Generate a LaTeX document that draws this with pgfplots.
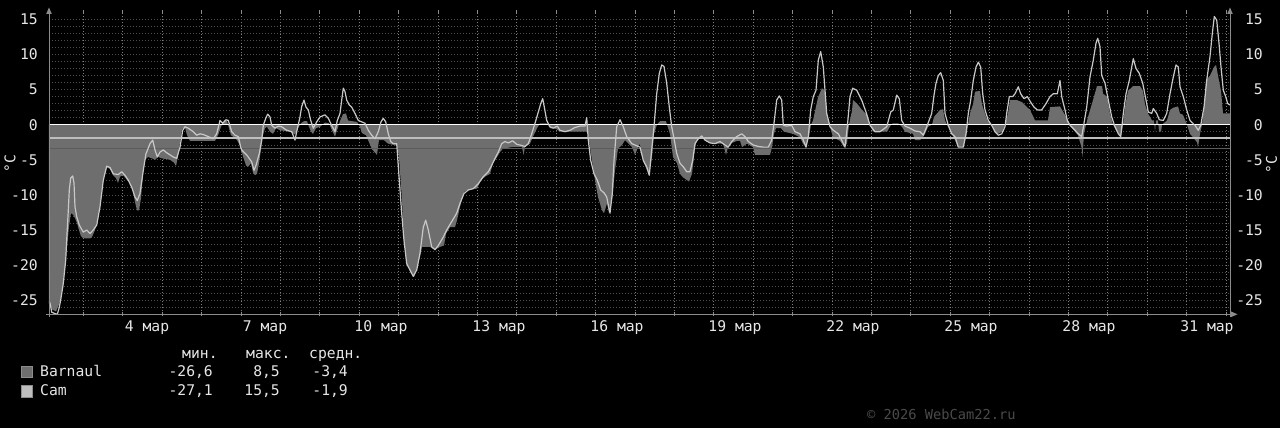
\documentclass[border=0pt]{standalone}
\usepackage{fontspec}
\setmainfont{DejaVu Sans Mono}
\setmonofont{DejaVu Sans Mono}
\usepackage{pgfplots}
\pgfplotsset{compat=1.18}
\definecolor{bfill}{HTML}{6E6E6E}
\definecolor{camline}{HTML}{C8C8C8}
\definecolor{camavg}{HTML}{BEBEBE}
\definecolor{bavg}{HTML}{5C5C5C}
\definecolor{hgrid}{HTML}{4E4E4E}
\definecolor{vgrid}{HTML}{7E7E7E}
\definecolor{axcol}{HTML}{8C8C8C}
\definecolor{txt}{HTML}{E6E6E6}
\definecolor{wm}{HTML}{4A4A4A}
\newcommand{\tf}{\fontsize{14.7}{15}\selectfont\ttfamily}
\begin{document}
\begin{tikzpicture}[x=1pt,y=1pt]
\fill[black] (0,0) rectangle (1280,428);
\begin{axis}[
  at={(49pt,113.7pt)}, anchor=south west, scale only axis,
  width=1181pt, height=302pt,
  xmin=49, xmax=1230, ymin=-27, ymax=16,
  axis line style={draw=none},
  xtick={83.3,122.7,...,1227}, xticklabels={},
  extra x ticks={147,265,381,499,617,735,853,971,1089,1207},
  extra x tick labels={4 мар,7 мар,10 мар,13 мар,16 мар,19 мар,22 мар,25 мар,28 мар,31 мар},
  extra x tick style={grid=none, major tick length=0pt},
  ytick={-25,-20,...,15},
  minor ytick={-26,-24,-23,-22,-21,-19,-18,-17,-16,-14,-13,-12,-11,-9,-8,-7,-6,-4,-3,-2,-1,1,2,3,4,6,7,8,9,11,12,13,14},
  xmajorgrids, ymajorgrids, yminorgrids,
  major x grid style={vgrid, line width=0.8pt, dash pattern=on 1pt off 2pt},
  major y grid style={hgrid, line width=0.8pt, dash pattern=on 1pt off 2pt},
  minor y grid style={hgrid, line width=0.8pt, dash pattern=on 1pt off 2pt},
  ytick style={draw=none}, minor tick length=0pt,
  xtick style={draw=axcol, line width=0.8pt}, major tick length=4pt, tick align=center,
  /pgf/number format/assume math mode=true,
  tick label style={font=\tf, text=txt},
  yticklabel style={anchor=east, inner sep=0pt, xshift=-9pt},
  xticklabel style={anchor=base, inner sep=0pt, yshift=-17.4pt},
]
\addplot[fill=bfill, draw=none] table {
49 0
49 -25.5
52 -26.3
56 -26.6
59 -25.6
61 -24.6
63 -22.5
65 -20.5
67 -17.5
69 -14.5
71 -12.6
73 -12.8
75 -13.3
77 -14.0
79 -15.0
81 -15.9
85 -16.2
90 -16.2
92 -16.0
95 -15.0
97 -13.8
100 -11.5
102 -9.0
104 -7.5
107 -6.1
110 -6.3
113 -7.2
116 -7.6
118 -8.3
120 -7.4
123 -7.2
126 -7.7
130 -8.3
133 -9.5
135 -11.0
137 -12.2
139 -12.2
141 -10.5
143 -7.0
145 -5.0
148 -4.6
152 -4.8
155 -5.0
158 -4.6
162 -4.8
166 -4.9
170 -5.0
174 -5.4
176 -5.9
178 -4.5
180 -2.5
182 -0.6
185 -0.4
187 -1.5
190 -2.3
215 -2.3
218 -1.5
221 -0.3
224 0.6
227 0.5
229 -0.5
231 -1.5
234 -1.8
237 -2.2
240 -3.0
243 -4.5
246 -5.8
248 -6.0
251 -5.5
253 -6.8
255 -7.2
257 -7.0
259 -5.5
261 -3.5
263 -1.5
265 -0.5
267 -0.3
270 -1.0
273 -1.3
276 -0.5
280 -0.8
290 -1.0
295 -1.4
298 -0.5
301 0.2
304 0.5
307 0.5
309 -0.3
311 -1.0
313 -1.3
316 -0.5
320 -0.3
325 0.3
329 0.2
332 -0.8
335 -1.7
337 -0.8
340 0.5
343 1.5
346 1.6
348 0.6
352 0.5
357 0.4
360 -0.3
362 -1.2
366 -1.5
369 -2.5
372 -3.5
377 -4.3
379 -2.2
384 -2.2
388 -2.7
394 -2.9
397 -3.0
399 -4.6
402 -10.8
404 -16.5
407 -19.8
411 -21.2
414 -21.7
417 -20.3
420 -18.8
422 -17.4
430 -17.4
435 -17.8
440 -17.4
444 -17.2
446 -15.5
450 -14.6
455 -14.6
457 -13.6
460 -11.7
464 -9.6
467 -9.3
477 -9.1
481 -7.9
485 -7.4
490 -7.0
493 -5.5
497 -4.6
500 -3.9
503 -3.4
512 -3.2
522 -3.2
523.5 -4.3
525 -3.2
530 -2.7
533 -1.7
537 -0.5
540 0.2
547 0.2
550 -0.5
556 -0.6
560 -1.0
586 -1.0
588 -1.3
592 -5.1
595 -7.9
598 -10.3
602 -12.2
604 -12.6
607 -11.2
609 -12.6
612 -10.8
615 -6.5
618 -3.4
622 -2.9
625 -2.2
632 -3.2
635 -4.3
638 -3.2
640 -2.7
643 -5.1
647 -6.5
649 -7.2
652 -4.6
654 -1.3
657 0.0
660 0.5
666 0.5
667 0.0
670 -1.3
673 -4.6
677 -5.5
680 -7.0
683 -7.5
687 -7.9
689 -8.1
692 -7.0
695 -3.2
697 -2.2
702 -1.8
707 -2.4
713 -2.7
723 -2.7
726 -4.3
728 -3.2
732 -2.6
737 -2.3
740 -2.3
742 -3.2
747 -2.7
753 -3.2
755 -4.3
770 -4.3
772 -3.2
774 -1.3
776 -0.5
781 -0.5
784 -1.0
793 -1.3
800 -1.8
803 -2.7
806 -3.2
809 -1.7
811 0.0
813 0.6
818 3.9
822 5.2
825 4.7
827 1.6
830 -0.3
833 -1.8
840 -2.3
844 -3.2
847 -2.7
849 0.0
852 2.0
853 3.5
857 3.0
862 2.1
867 1.4
870 0.0
873 -1.0
887 -1.0
891 0.0
893 0.2
898 0.2
902 -0.3
905 -1.0
913 -1.3
915 -2.2
920 -2.2
923 -1.8
926 -1.0
928 -0.3
932 0.0
934 1.1
937 1.6
940 2.1
943 2.2
945 0.6
948 -0.3
952 -1.3
955 -2.2
958 -3.2
963 -3.2
966 -1.8
968 0.0
970 1.6
973 2.9
975 4.7
980 4.8
982 2.9
984 2.0
988 0.4
992 0.0
995 -1.0
998 -1.3
1002 -1.0
1005 0.0
1008 1.6
1010 3.5
1017 3.5
1022 3.2
1027 2.5
1030 2.1
1035 0.6
1048 0.6
1050 2.5
1060 2.6
1062 2.1
1067 0.9
1070 -0.1
1075 -1.0
1078 -1.5
1081.5 -3.2
1082.5 -4.6
1084 -1.3
1086 0.0
1088 1.1
1093 3.5
1097 5.5
1102 5.5
1103 4.4
1107 4.0
1110 1.6
1113 0.0
1117 -1.0
1121 -1.7
1123 0.0
1125 2.5
1128 4.8
1133 5.5
1140 5.5
1143 4.8
1145 2.9
1148 1.6
1152 0.6
1154 0.6
1155 -1.0
1156 0.6
1158 0.6
1159 -1.0
1161 -1.0
1162 0.0
1167 0.6
1170 2.1
1173 2.4
1178 2.6
1180 1.6
1183 1.4
1187 0.0
1190 -1.3
1193 -1.8
1197 -2.5
1198 -3.2
1200 -1.3
1202 0.0
1204 2.5
1206 6.3
1210 7.0
1214 8.2
1216 8.5
1218 7.0
1221 4.8
1223 1.6
1230 1.6
1230 0
} -- cycle;
\addplot[bavg, line width=1pt] coordinates {(49,-3.4) (1230,-3.4)};
\addplot[camavg, line width=1.2pt] coordinates {(49,-1.9) (1230,-1.9)};
\addplot[white, line width=1.6pt] coordinates {(49,0) (1230,0)};
\addplot[camline, line width=1.2pt, line join=round] table {
49 -25.2
50 -25.4
51.7 -26.7
55 -26.9
57.3 -27.0
59.3 -26.0
61 -24.7
63.3 -22.6
65.7 -19.3
66.7 -16.4
68.3 -12.2
69.3 -9.3
70.7 -7.6
72.7 -7.3
74 -8.3
75 -11.7
76.7 -13.1
79.3 -14.3
83.3 -15.3
86.7 -15.0
90 -15.5
93.3 -15.0
96.7 -14.3
100 -11.7
103.3 -7.9
106.7 -5.9
110 -6.1
113.3 -7.0
118.3 -7.1
121.7 -6.7
125 -7.2
128.3 -7.9
131.7 -8.9
135 -10.3
137.3 -10.8
140 -9.8
143.3 -6.5
146 -4.1
146.7 -3.9
150 -2.7
152.7 -2.2
155 -3.6
157.3 -4.6
160 -3.9
163.3 -3.6
166.7 -4.0
170 -4.3
173.3 -4.6
176.7 -4.8
180 -3.2
182.7 -0.8
185 -0.3
188.3 -0.5
193.3 -1.0
196.7 -1.5
200 -1.3
203.3 -1.4
208.3 -1.7
213.3 -2.0
216.7 -1.3
220 0.6
222.7 0.2
226 0.7
228.3 0.6
231.7 -1.0
235 -1.5
238.3 -1.7
240.7 -3.2
241.7 -3.6
246.7 -4.3
251.7 -5.3
254 -6.5
256 -5.8
259.3 -4.1
261.7 -2.2
263.3 -0.1
265.7 0.9
267.7 1.5
270 1.1
271.7 -0.1
275 -0.5
278.3 -0.2
281.7 -0.3
286.7 -0.8
291.7 -1.0
295 -2.2
296.7 -1.0
300 1.1
301.7 2.6
304 3.5
306 2.5
308.3 2.1
310.7 0.6
313.3 -0.5
316.7 0.4
320 1.1
325 1.4
328.3 0.9
331.7 -0.1
335 -1.0
337.3 0.6
340 1.6
341.7 3.5
343.3 5.2
345 4.7
346.7 3.5
349.3 2.8
351.7 2.5
355 1.6
358.3 0.6
361.7 0.4
365 0.2
368.3 -0.8
371.7 -1.5
375 -2.0
378.3 -1.0
381 0.4
383.3 0.9
385.7 0.4
388.3 -1.3
390.7 -2.4
393.3 -2.7
396.7 -2.7
399.3 -7.9
401.7 -12.6
404 -16.5
406.7 -19.8
410 -20.7
413.3 -21.6
416.7 -20.7
420 -18.3
423.3 -14.6
425.7 -13.6
428.3 -15.0
431.7 -17.4
435 -17.8
438.3 -17.2
443.3 -16.0
446.7 -15.0
451.7 -13.8
456.7 -12.6
460 -11.2
464 -9.8
468.3 -9.3
473.3 -9.1
478.3 -8.4
483.3 -7.4
488.3 -6.7
491.7 -5.8
495 -4.8
498.3 -3.9
501.7 -2.7
505 -2.4
508.3 -2.6
512.7 -2.3
516.7 -2.8
520 -2.9
525 -3.1
528.3 -2.7
531.7 -1.3
535 0.2
538.3 1.8
540.7 3.0
542.7 3.7
544.3 2.5
546.7 0.6
550 -0.3
553.3 -0.5
557.3 -0.2
560 -0.8
565 -1.0
570 -0.8
575 -0.4
580 -0.2
585 -0.2
586.7 1.0
588.3 -2.2
590.7 -5.1
594 -7.0
597.3 -7.9
600.7 -9.3
604 -9.7
606.7 -10.3
610 -12.6
612.3 -9.8
614 -5.1
616.7 -0.3
620 0.7
623.3 -0.3
626.7 -1.7
631.7 -2.7
635 -2.9
640 -3.2
643.3 -5.1
646.7 -6.0
649.3 -7.2
651.7 -3.6
654 -0.3
656.7 4.4
659.3 7.3
661.7 8.5
664 8.3
666.7 5.9
669.3 2.5
671.7 -0.3
674.3 -2.2
676.7 -4.1
680 -5.5
683.3 -6.0
686.7 -6.7
690 -6.7
692.7 -5.1
695 -2.7
698.3 -2.0
701.7 -1.6
705 -2.2
710 -2.6
715 -2.7
720 -2.4
725 -2.9
728.3 -3.2
731.7 -2.4
736.7 -1.7
741.7 -1.3
745 -1.7
748.3 -2.4
753.3 -2.9
758.3 -3.1
763.3 -3.2
768.3 -3.2
771.7 -2.2
774 0.2
776.7 3.5
779.3 4.1
781.7 3.5
783.3 -0.1
786.7 -0.2
791.7 -0.1
795 -1.0
800 -1.3
803.3 -2.2
806 -3.2
808.3 -1.7
810.7 2.1
813.3 4.0
816 4.9
818.3 9.2
820.7 10.4
823.3 8.2
826.7 1.6
830 -0.3
833.3 -0.8
838.3 -1.3
841.7 -2.2
845 -3.2
847.3 -0.3
850 4.0
852.7 5.2
856.7 4.9
861.7 3.5
866 1.8
870 -0.1
875 -1.0
880 -1.0
886.7 -0.3
890.7 1.8
893.3 2.1
896.7 4.2
899.3 3.7
901.7 0.6
905 -0.2
910 -0.5
915 -0.9
920 -1.0
923.3 -1.5
926.7 -0.3
931.7 1.6
934 4.2
936 5.9
938.3 7.0
940.7 7.4
943.3 6.3
945 1.6
948.3 -0.1
951.7 -1.3
955 -1.7
958.3 -3.2
963.3 -3.2
966 -1.3
968.3 1.6
970.7 3.5
973.3 6.3
976 8.2
978.3 8.9
980.7 8.2
982.7 4.4
985 2.1
988.3 0.6
991.7 -0.1
995 -1.0
998.3 -1.5
1001.7 -1.3
1005 -0.3
1006.7 1.6
1009.3 4.0
1012.7 4.0
1015 4.4
1018.3 5.4
1020.7 4.4
1024 3.7
1027.3 4.0
1030.7 3.2
1034 2.5
1037.3 2.1
1041.7 2.1
1046 3.0
1050 4.0
1053.3 4.4
1057.3 4.4
1060 6.3
1061.7 4.0
1065 2.1
1067.3 0.6
1070 -0.1
1075 -0.8
1078.3 -1.3
1081.7 -1.7
1084 0.2
1086.7 2.5
1090 6.8
1093.3 9.2
1096 11.6
1097.7 12.3
1100 11.1
1101.7 7.0
1105 5.9
1108.3 3.5
1111.7 1.1
1115 -0.3
1118.3 -1.3
1120.7 -1.7
1123.3 1.6
1126 4.4
1129.3 6.3
1131.7 8.2
1133.3 9.4
1136 8.0
1139.3 7.3
1142.7 5.9
1146 3.5
1148.3 1.8
1151.7 1.6
1153.3 2.3
1156.7 1.6
1159.3 0.7
1163.3 0.6
1166.7 1.6
1170 4.4
1173.3 6.8
1176 8.5
1178.3 8.2
1180 5.4
1183.3 4.0
1186.7 2.1
1190 0.6
1195 -0.1
1198.3 -0.8
1200.7 -0.1
1204 2.5
1206.7 6.3
1210 9.7
1212.3 13.0
1214.3 15.4
1216.7 14.9
1219 11.6
1221 8.2
1223.3 4.9
1225.7 4.0
1227.7 3.0
1230 2.8
};
\end{axis}
% right-hand tick labels
\begin{axis}[
  at={(49pt,113.7pt)}, anchor=south west, scale only axis,
  width=1181pt, height=302pt,
  xmin=49, xmax=1230, ymin=-27, ymax=16,
  axis line style={draw=none}, xtick=\empty,
  ytick={-25,-20,...,15}, ytick style={draw=none},
  yticklabel pos=right,
  /pgf/number format/assume math mode=true,
  tick label style={font=\tf, text=txt},
  yticklabel style={anchor=east, inner sep=0pt, xshift=33pt},
]
\addplot[draw=none] coordinates {(49,0) (1230,0)};
\end{axis}
% axes with arrows
\draw[axcol, line width=1pt] (49,111) -- (49,415);
\fill[axcol] (46.2,414) -- (51.8,414) -- (49,420.5) -- cycle;
\draw[axcol, line width=1pt] (1230,111) -- (1230,415);
\fill[axcol] (1227.2,414) -- (1232.8,414) -- (1230,420.5) -- cycle;
\draw[axcol, line width=1pt] (46,113.7) -- (1232,113.7);
\fill[axcol] (1231,110.9) -- (1231,116.5) -- (1237.5,113.7) -- cycle;
% unit labels
\node[rotate=90, text=txt, font=\tf, inner sep=0pt] at (10,264) {°C};
\node[rotate=90, text=txt, font=\tf, inner sep=0pt] at (1271.5,263.5) {°C};
% legend
\fill[bfill, draw=axcol, line width=0.8pt] (21,50.5) rectangle (32.5,62);
\fill[camavg, draw=axcol, line width=0.8pt] (21,31) rectangle (32.5,42.5);
\node[anchor=base west, inner sep=0pt, text=txt, font=\tf] at (40,51.3) {Barnaul};
\node[anchor=base west, inner sep=0pt, text=txt, font=\tf] at (40,32) {Cam};
\node[anchor=base west, inner sep=0pt, text=txt, font=\tf] at (182,69.7) {мин.};
\node[anchor=base west, inner sep=0pt, text=txt, font=\tf] at (246,69.7) {макс.};
\node[anchor=base west, inner sep=0pt, text=txt, font=\tf] at (309,69.7) {средн.};
\node[anchor=base east, inner sep=0pt, text=txt, font=\tf] at (213,51.3) {-26,6};
\node[anchor=base east, inner sep=0pt, text=txt, font=\tf] at (280,51.3) {8,5};
\node[anchor=base east, inner sep=0pt, text=txt, font=\tf] at (348,51.3) {-3,4};
\node[anchor=base east, inner sep=0pt, text=txt, font=\tf] at (213,32) {-27,1};
\node[anchor=base east, inner sep=0pt, text=txt, font=\tf] at (280,32) {15,5};
\node[anchor=base east, inner sep=0pt, text=txt, font=\tf] at (348,32) {-1,9};
\node[anchor=base west, inner sep=0pt, text=wm, font=\fontsize{13.7}{14}\selectfont\ttfamily] at (867,8.7) {© 2026 WebCam22.ru};
\pgfresetboundingbox
\useasboundingbox (0,0) rectangle (1280,428);
\end{tikzpicture}
\end{document}
